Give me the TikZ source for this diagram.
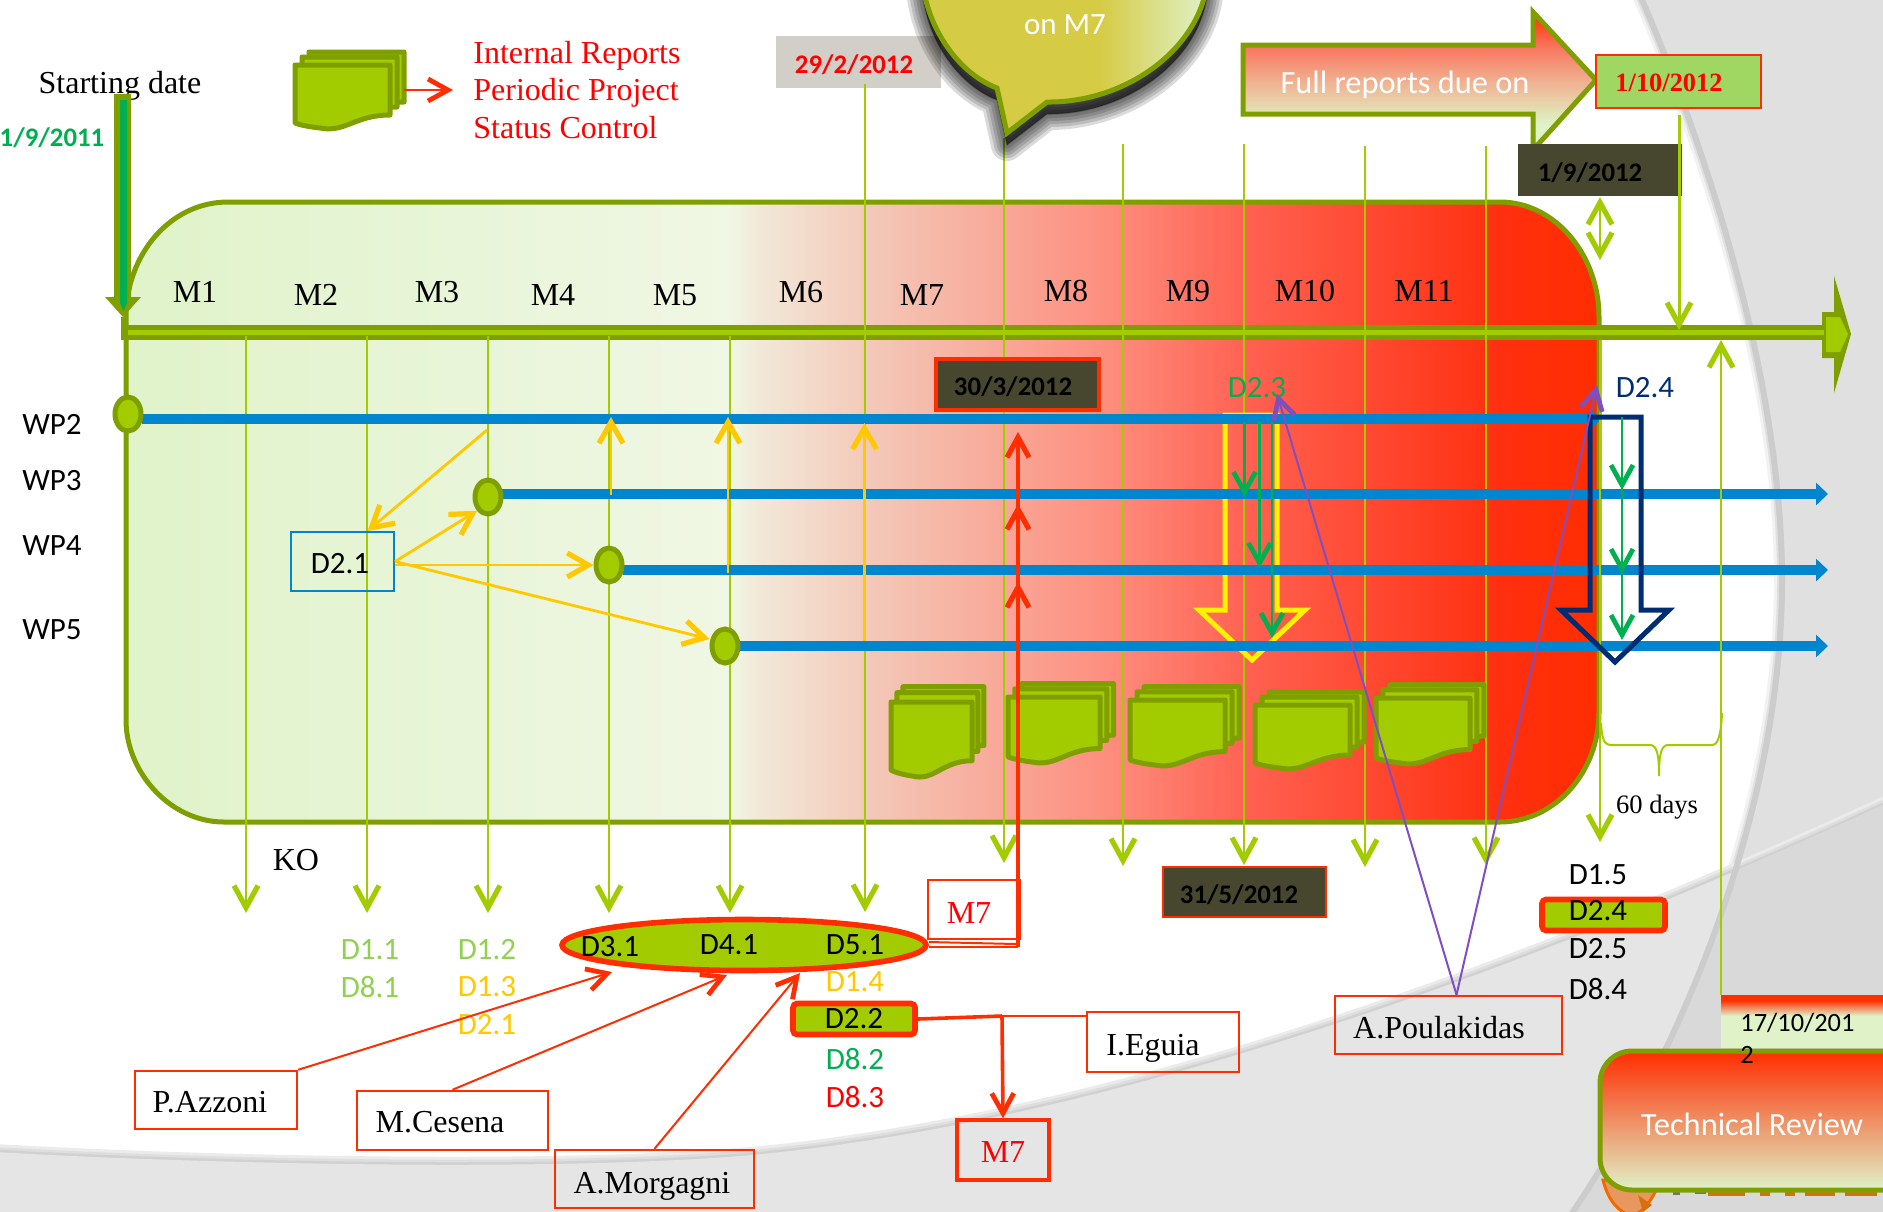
\documentclass[tikz,border=0pt]{standalone}
\usepackage{fontspec}
\setmainfont{Liberation Serif}
\newfontfamily\carl{Carlito}
\usetikzlibrary{arrows.meta,shapes.geometric}
\definecolor{olive}{HTML}{7F9F00}
\definecolor{lime}{HTML}{A3CC00}
\definecolor{wpblue}{HTML}{0085CF}
\definecolor{myred}{HTML}{FF2D00}
\definecolor{gold}{HTML}{FFC800}
\definecolor{dgreen}{HTML}{00B050}
\definecolor{lgreen}{HTML}{92D050}
\definecolor{purp}{HTML}{7F4FBF}
\definecolor{navy}{HTML}{002D72}
\definecolor{darkbox}{HTML}{47472F}
\definecolor{pale}{HTML}{DFF2C8}
\definecolor{grA}{HTML}{E0F3C9}
\definecolor{grB}{HTML}{E8F5D8}
\definecolor{grC}{HTML}{F0F7E4}
\definecolor{grD}{HTML}{F2E8D8}
\definecolor{grE}{HTML}{F3C8B8}
\definecolor{grF}{HTML}{FD9080}
\definecolor{grG}{HTML}{FF6050}
\definecolor{grH}{HTML}{FF3010}
\definecolor{must}{HTML}{D6CB45}
\definecolor{salmon}{HTML}{F87860}
\definecolor{peach}{HTML}{F0B090}
\definecolor{creamy}{HTML}{E2E5B8}
\definecolor{boxgrey}{HTML}{D2CEC8}
\definecolor{lightgr}{HTML}{A0D662}
\definecolor{orfill}{HTML}{E8985F}
\definecolor{ordraw}{HTML}{F06A00}
\definecolor{ordark}{HTML}{D87010}
\pgfdeclarehorizontalshading{mainfill}{100bp}{color(0bp)=(grA);color(25bp)=(grA);color(36bp)=(grB);color(45.5bp)=(grC);color(46.5bp)=(grD);color(50.3bp)=(grE);color(58bp)=(grF);color(63.2bp)=(grG);color(71.6bp)=(grH);color(75bp)=(myred);color(100bp)=(myred)}
\pgfdeclarehorizontalshading{bubblefill}{100bp}{color(0bp)=(must);color(25bp)=(must);color(56bp)=(must);color(75bp)=(pale);color(100bp)=(pale)}
\pgfdeclareverticalshading{fullfill}{100bp}{color(0bp)=(pale);color(34bp)=(pale);color(38bp)=(creamy);color(50bp)=(peach);color(62bp)=(salmon);color(75bp)=(myred);color(100bp)=(myred)}
\pgfdeclareverticalshading{datefill}{100bp}{color(0bp)=(pale);color(55bp)=(pale);color(70bp)=(myred);color(100bp)=(myred)}
\tikzset{
  txt/.style={font=\fontsize{16pt}{18pt}\selectfont,inner sep=0pt},
  cal/.style={font=\carl\fontsize{15.5pt}{18pt}\selectfont,inner sep=0pt},
  calbig/.style={font=\carl\fontsize{16.2pt}{18pt}\selectfont,inner sep=0pt},
  date/.style={font=\carl\bfseries\fontsize{13.4pt}{16pt}\selectfont,inner sep=0pt,text=black},
  namebox/.style={draw=myred,line width=1.25pt,inner sep=0pt},
  darkdate/.style={fill=darkbox,inner sep=0pt},
  vline/.style={draw=lime,line width=1pt},
  greenhead/.style={vline,-{Straight Barb[length=11pt,width=12pt,line width=2.6pt]}},
  goldline/.style={draw=gold,line width=1.4pt,-{Straight Barb[length=10.5pt,width=12pt,line width=2.6pt]}},
  redline/.style={draw=myred,line width=1pt,-{Straight Barb[length=10pt,width=11pt,line width=2.4pt]}},
  redup/.style={draw=myred,line width=1.7pt,-{Straight Barb[length=10pt,width=11pt,line width=2.6pt]}},
  purpline/.style={draw=purp,line width=1pt,-{Straight Barb[length=10pt,width=11pt,line width=2.4pt]}},
  dgline/.style={draw=dgreen,line width=1.3pt,-{Straight Barb[length=10pt,width=11pt,line width=2.4pt]}},
  wpline/.style={draw=wpblue,line width=5pt},
  wparrow/.style={wpline,-{Triangle[length=6pt,width=11pt]}},
  wpdot/.style={ellipse,draw=olive,fill=lime,line width=2.5pt,minimum width=13pt,minimum height=17pt,inner sep=0pt},
  pagestyle/.style={draw=olive,fill=lime,line width=2.5pt,line join=round},
  block/.style={line width=2.5pt,line join=miter},
}
\newcommand{\docpage}{(0,0) -- (95,0) -- (95,50) .. controls (60,50) and (50,68) .. (25,63) .. controls (15,62) and (5,60) .. (0,58) -- cycle}
\newcommand{\docstack}[4]{%
  \begin{scope}[shift={(#1,#2)},xscale=#3/95,yscale=#4/63]
    \draw[pagestyle,shift={(14,-13)}] \docpage;
    \draw[pagestyle,shift={(7,-8)}] \docpage;
    \draw[pagestyle] \docpage;
  \end{scope}}
\newcommand{\bubblepath}{(997,88) -- (1007,133) -- (1047,102) .. controls (1130,103) and (1208,43) .. (1208,-30) -- (1208,-60) -- (922,-60) -- (922,-30) .. controls (922,20) and (955,72) .. (997,88) -- cycle}
\newcommand{\rightarc}{(1640,-5) .. controls (1720,180) and (1782,400) .. (1782,580) .. controls (1782,800) and (1690,1040) .. (1570,1216)}
\newcommand{\lowerarc}{(-5,1152) .. controls (200,1164) and (560,1172) .. (752,1155) .. controls (1100,1122) and (1500,982) .. (1890,802)}
\begin{document}
\begin{tikzpicture}[x=0.5pt,y=-0.5pt]
\useasboundingbox (0,0) rectangle (1883,1211);
\clip (0,0) rectangle (1883,1211);
% background
\fill[white] (0,0) rectangle (1883,1211);
\draw[line width=8pt,color=black!5] \rightarc;
\draw[line width=5pt,color=black!12] \rightarc;
\draw[line width=2.5pt,color=black!20] \rightarc;
\fill[color=black!12] \rightarc -- (1890,1216) -- (1890,-5) -- cycle;
\draw[line width=8pt,color=black!8] \lowerarc;
\draw[line width=5pt,color=black!13] \lowerarc;
\draw[line width=2.5pt,color=black!18] \lowerarc;
\fill[color=black!10] \lowerarc -- (1890,1216) -- (-5,1216) -- cycle;
\begin{scope}
  \clip \rightarc -- (1890,1216) -- (1890,-5) -- cycle;
  \fill[color=black!15] \lowerarc -- (1890,1216) -- (-5,1216) -- cycle;
\end{scope}
\draw[line width=3pt,color=black!20] \rightarc;
% orange shape and cut-off logo at the foot
\draw[fill=orfill,draw=ordraw,line width=1.5pt] (1603,1180) .. controls (1608,1200) and (1618,1212) .. (1632,1216) .. controls (1645,1212) and (1655,1195) .. (1660,1180) -- cycle;
\fill[ordark] (1638,1195) -- (1652,1205) -- (1643,1212) -- cycle;
\fill[black!55] (1673,1188) rectangle (1680,1195);
\fill[black!55] (1695,1188) rectangle (1706,1194);
\foreach \pa/\pb in {1708/1745,1760/1770,1785/1795,1805/1835,1845/1877}{
  \fill[ordark] (\pa,1188) rectangle (\pb,1196);
}
% main box
\path[draw=olive,line width=2.5pt,shading=mainfill]
  (126,317) .. controls (126,255) and (170,202) .. (228,202) -- (1500,202)
  .. controls (1555,202) and (1599,255) .. (1599,317) -- (1599,712)
  .. controls (1599,772) and (1555,822) .. (1500,822) -- (224,822)
  .. controls (170,822) and (126,772) .. (126,720) -- cycle;
% legend icon and title
\node[txt] (start) at (120,86) {Starting date};
\node[font=\carl\bfseries\fontsize{13.4pt}{16pt}\selectfont,inner sep=0pt,text=dgreen] (startdate) at (52,138) {1/9/2011};
\docstack{295}{65}{95}{63}
\coordinate (legA) at (404,90);
\coordinate (legB) at (453,90);
\draw[redline] (legA) -- (legB);
\node[txt,text=red,anchor=base west] (leg1) at (473,63) {Internal Reports};
\node[txt,text=red,anchor=base west] (leg2) at (473,100) {Periodic Project};
\node[txt,text=red,anchor=base west] (leg3) at (473,138) {Status Control};
% vertical lines behind axis
\foreach \n/\lx in {a/246,b/367,c/488,d/609,e/730}{
  \coordinate (lo\n s) at (\lx,336);
  \coordinate (lo\n e) at (\lx,913);
}
% axis
\draw[olive,line width=7.5pt] (126,332.5) -- (1825,332.5);
\fill[olive] (1822,312) -- (1834,312) -- (1834,276) -- (1851,334) -- (1834,393) -- (1834,358) -- (1822,358) -- cycle;
\fill[lime] (1826,317) -- (1840,317) -- (1848,334) -- (1840,352) -- (1826,352) -- cycle;
\draw[lime,line width=2.5pt] (128,332.5) -- (1824,332.5);
% start arrow
\fill[olive] (114,94) -- (131,94) -- (131,297) -- (141,297) -- (123,317) -- (105,297) -- (114,297) -- cycle;
\fill[dgreen] (120,100) -- (127,100) -- (127,303) -- (123.5,311) -- (120,303) -- cycle;
\coordinate (mA) at (123,317);
\coordinate (mB) at (123,340);
\draw[olive,line width=2pt] (mA) -- (mB);
% down arrows
\foreach \n in {a,b,c,d,e}{\draw[greenhead] (lo\n s) -- (lo\n e);}
\node[fill=boxgrey,minimum width=82.5pt,minimum height=26pt,inner sep=0pt] (d292) at (858.5,62) {};
\coordinate (fs) at (865,84);\coordinate (fe) at (865,912);
\draw[greenhead] (fs) -- (fe);
\node[font=\carl\bfseries\fontsize{13.4pt}{16pt}\selectfont,text=red,inner sep=0pt] (d292t) at (854,65) {29/2/2012};
\foreach \n/\lx/\ya/\yb in {g/1004/138/863,h/1123/144/866,i/1244/144/865,j/1365/146/867,k/1486/146/865}{
  \coordinate (up\n s) at (\lx,\ya);\coordinate (up\n e) at (\lx,\yb);
  \draw[greenhead] (up\n s) -- (up\n e);
}
% icons row
\docstack{891}{702}{81}{74}
\docstack{1008}{697}{92}{65}
\docstack{1130}{700}{95}{65}
\docstack{1255}{705}{95}{63}
\docstack{1376}{698}{94}{65}
% yellow block arrow under blue
\draw[block,draw=yellow] (1225,415) -- (1277,415) -- (1277,610) -- (1305,610) -- (1252,660) -- (1199,610) -- (1225,610) -- cycle;
% WP lines
\coordinate (wp2e) at (1601,419);
\coordinate (wp3e) at (1828,494);
\coordinate (wp4e) at (1828,570);
\coordinate (wp5e) at (1828,646);
\coordinate (wp2s) at (142,419);
\coordinate (wp3s) at (502,494);
\coordinate (wp4s) at (623,570);
\coordinate (wp5s) at (739,646);
\draw[wparrow] (wp2s) -- (wp2e);
\draw[wparrow] (wp3s) -- (wp3e);
\draw[wparrow] (wp4s) -- (wp4e);
\draw[wparrow] (wp5s) -- (wp5e);
\node[wpdot] (dot2) at (128,414) {};
\node[wpdot] (dot3) at (488,497) {};
\node[wpdot] (dot4) at (609,565) {};
\node[wpdot] (dot5) at (725,646) {};
\node[cal] (wp2) at (52,424) {WP2};
\node[cal] (wp3) at (52,481) {WP3};
\node[cal] (wp4) at (52,546) {WP4};
\node[cal] (wp5) at (52,630) {WP5};
% months
\foreach \n/\lx/\ly in {M1/195/292,M2/316/295,M3/437/292,M4/553/295,M5/675/295,M6/801/292,M7/922/295,M8/1066/291,M9/1188/291,M10/1305/291,M11/1424/291}{
  \node[txt] (\n) at (\lx,\ly) {\n};
}
% D2.1 box and gold arrows
\node[draw=wpblue,line width=1pt,minimum width=51.5pt,minimum height=29.5pt,inner sep=0pt] (d21) at (342.5,561.5) {};
\node[cal] (d21b) at (340,564) {D2.1};
\coordinate (gs) at (487,430);
\coordinate (gup1s) at (611,495);\coordinate (gup1e) at (611,417);
\coordinate (gup2s) at (728,573);\coordinate (gup2e) at (728,417);
\coordinate (gup3s) at (864.5,641);\coordinate (gup3e) at (864.5,423);
\draw[goldline] (gs) -- ([xshift=12.5pt]d21.north);
\draw[goldline] (d21.east) -- (dot3.south west);
\draw[goldline] (d21.east |- dot4.west) -- (dot4.west);
\draw[goldline] (d21.east) -- ([yshift=3.5pt]dot5.west);
\draw[goldline] (gup1s) -- (gup1e);
\draw[goldline] (gup2s) -- (gup2e);
\draw[goldline] (gup3s) -- (gup3e);
% bubble
\begin{scope}[yshift=-6pt]
\foreach \w in {16,13,10,7,4,1}{
  \draw[color=black,opacity=.14,fill=black,line width=\w pt,line join=round] \bubblepath;
}
\end{scope}
\path[draw=olive,line width=2.5pt,line join=miter,shading=bubblefill] \bubblepath;
\node[cal,text=white] (onm7) at (1065,25) {on M7};
% full reports arrow
\path[draw=olive,line width=2.5pt,line join=miter,shading=fullfill]
  (1243,45) -- (1533,45) -- (1533,12) -- (1596,80) -- (1533,150) -- (1533,114) -- (1243,114) -- cycle;
\node[calbig,text=white] (full) at (1405,85) {Full reports due on};
\node[fill=lightgr,draw=myred,line width=1.25pt,minimum width=82.5pt,minimum height=26.5pt,inner sep=0pt] (d110) at (1678.5,81.5) {};
\node[font=\bfseries\fontsize{13.2pt}{16pt}\selectfont,text=red,inner sep=0pt] (d110t) at (1669,83) {1/10/2012};
\node[darkdate,minimum width=82pt,minimum height=26pt] (d19) at (1600,170) {};
\node[date] (d19t) at (1590,173) {1/9/2012};
\coordinate (dbl1) at (1600,197);\coordinate (dbl2) at (1600,260);
\draw[vline,{Straight Barb[length=11pt,width=12pt,line width=2.6pt]}-{Straight Barb[length=11pt,width=12pt,line width=2.6pt]}] (dbl1) -- (dbl2);
\coordinate (r1) at (1679,115);\coordinate (r2) at (1679,330);
\draw[greenhead,line width=1.5pt] (r1) -- (r2);
\coordinate (u1) at (1721,995);\coordinate (u2) at (1721,340);
\draw[greenhead] (u1) -- (u2);
% 60 days
\coordinate (v1) at (1600,340);\coordinate (v2) at (1600,842);
\draw[greenhead] (v1) -- (v2);
\draw[vline] (1601,723) .. controls (1602,740) and (1604,745) .. (1612,745) -- (1650,745) .. controls (1657,745) and (1659,755) .. (1659,776) .. controls (1659,755) and (1661,745) .. (1668,745) -- (1712,745) .. controls (1718,745) and (1721,735) .. (1722,713);
\node[inner sep=0pt,font=\fontsize{13.3pt}{16pt}\selectfont] (days) at (1657,807) {60 days};
\node[txt] (ko) at (296,860) {KO};
% dark dates
\node[darkdate,draw=myred,line width=2pt,minimum width=81.5pt,minimum height=25.5pt] (d303) at (1017.5,384) {};
\node[date] (d303t) at (1013,387) {30/3/2012};
\node[darkdate,draw=myred,line width=1.25pt,minimum width=81.5pt,minimum height=25pt] (d315) at (1244.5,892) {};
\node[date] (d315t) at (1239,895) {31/5/2012};
% D2.3 D2.4
\node[cal,text=dgreen] (l23) at (1257,388) {D2.3};
\node[cal,text=navy] (l24) at (1645,388) {D2.4};
% green arrows inside yellow
\coordinate (ga) at (1244.5,422);\coordinate (gae) at (1244.5,497);
\coordinate (gb) at (1259.5,422);\coordinate (gbe) at (1259.5,568);
\coordinate (gc) at (1272,422);\coordinate (gce) at (1272,638);
\draw[dgline] (ga) -- (gae);
\draw[dgline] (gb) -- (gbe);
\draw[dgline] (gc) -- (gce);
% navy block arrow
\draw[block,draw=navy] (1590,417) -- (1641,417) -- (1641,610) -- (1669,610) -- (1615,662) -- (1561,610) -- (1590,610) -- cycle;
\coordinate (na) at (1622,417);\coordinate (nb) at (1622,490);\coordinate (nc) at (1622,574);\coordinate (nd) at (1622,640);
\draw[dgline] (na) -- (nd);
\draw[dgline] (na) -- (nc);
\draw[dgline] (na) -- (nb);
% ellipse and D labels
\node[ellipse,draw=myred,fill=lime,line width=2.8pt,minimum width=182pt,minimum height=25.5pt,inner sep=0pt] (ell) at (744,945) {};
\node[cal] (d31) at (610,947) {D3.1};
\node[cal] (d41) at (729,945) {D4.1};
\node[cal] (d51) at (855,945) {D5.1};
\node[cal,text=lgreen] (d11) at (370,950) {D1.1};
\node[cal,text=lgreen] (d81) at (370,987) {D8.1};
\node[cal,text=lgreen] (d12) at (487,950) {D1.2};
\node[cal,text=gold] (d13) at (487,987) {D1.3};
\node[cal,text=gold] (d21t) at (487,1025) {D2.1};
\node[cal,text=gold] (d14) at (855,982) {D1.4};
\node[cal,text=dgreen] (d82) at (855,1059) {D8.2};
\node[cal,text=red] (d83) at (855,1097) {D8.3};
\node[draw=myred,fill=lime,line width=2.8pt,rounded corners=2pt,minimum width=61pt,minimum height=15.5pt,inner sep=0pt,font=\carl\fontsize{15.5pt}{18pt}\selectfont] (d22) at (854,1019) {D2.2};
\node[cal] (d15) at (1598,875) {D1.5};
\node[draw=myred,fill=lime,line width=2.8pt,rounded corners=2pt,minimum width=61.5pt,minimum height=15.5pt,inner sep=0pt] (d24) at (1603.5,915) {};
\node[cal] (d24t) at (1598,911) {D2.4};
\node[cal] (d25) at (1598,949) {D2.5};
\node[cal] (d84) at (1598,989) {D8.4};
% M7 box with red line
\node[namebox,minimum width=46pt,minimum height=29.5pt] (m7a) at (974,909.5) {};
\node[txt,text=red] (m7at) at (969,913) {M7};
\coordinate (rc) at (1018,947);
\coordinate (re1) at (1018,432);\coordinate (re2) at (1018,504);\coordinate (re3) at (1018,582);
\draw[draw=myred,line width=1pt] ([yshift=-1pt]ell.east) -- (rc);
\draw[draw=myred,line width=1pt] ([yshift=1.5pt]ell.east) -- ([yshift=1.5pt,xshift=-1pt]rc);
\draw[redup] (rc) -- (re1);
\draw[redup] (rc) -- (re2);
\draw[redup] (rc) -- (re3);
% names
\node[namebox,minimum width=81pt,minimum height=29pt] (azz) at (216,1100) {};
\node[txt] (azzt) at (210,1102) {P.Azzoni};
\node[namebox,minimum width=95.5pt,minimum height=29.5pt] (ces) at (452.5,1120.5) {};
\node[txt] (cest) at (440,1122) {M.Cesena};
\node[namebox,minimum width=99.5pt,minimum height=29pt] (mor) at (654.5,1179) {};
\node[txt] (mort) at (652,1186) {A.Morgagni};
\node[namebox,minimum width=76pt,minimum height=30pt] (egu) at (1163,1042) {};
\node[txt] (egut) at (1153,1048) {I.Eguia};
\node[namebox,minimum width=113.5pt,minimum height=29pt] (pou) at (1448.5,1025) {};
\node[txt] (pout) at (1439,1028) {A.Poulakidas};
\node[namebox,line width=1.8pt,minimum width=46pt,minimum height=30pt] (m7b) at (1003,1150) {};
\node[txt,text=red] (m7bt) at (1003,1152) {M7};
\coordinate (azE) at (612,972);
\coordinate (ceE) at (727,975);
\coordinate (moE) at (800,973);
\draw[redline] (azz.north east) -- (azE);
\draw[redline] (ces.north) -- (ceE);
\draw[redline] (mor.north) -- (moE);
\coordinate (eg) at (1002,1016);
\draw[draw=myred,line width=1.8pt] (d22.east) -- (eg);
\draw[draw=myred,line width=1pt] (eg) -- (egu.west |- eg);
\draw[redline,line width=1.8pt] (eg) -- (m7b.north);
\coordinate (poA) at (1277,394);\coordinate (poB) at (1597,385);
\draw[purpline] (pou.north) ++(8,0) coordinate (poS) -- (poA);
\draw[purpline] (poS) -- (poB);
% 17/10/2012 and technical review
\path[shading=datefill] (1721,995) rectangle (1900,1047);
\path[draw=olive,line width=2.5pt,rounded corners=16pt,top color=myred,bottom color=pale] (1600,1190) rectangle (1960,1051);
\node[calbig,text=white] (tr) at (1752,1124) {Technical Review};
\node[font=\carl\fontsize{13.2pt}{16pt}\selectfont,inner sep=0pt,anchor=west] (d17t) at (1740,1023) {17/10/201};
\node[font=\carl\fontsize{13.2pt}{16pt}\selectfont,inner sep=0pt,anchor=west] (d17u) at (1740,1055) {2};
\end{tikzpicture}
\end{document}
